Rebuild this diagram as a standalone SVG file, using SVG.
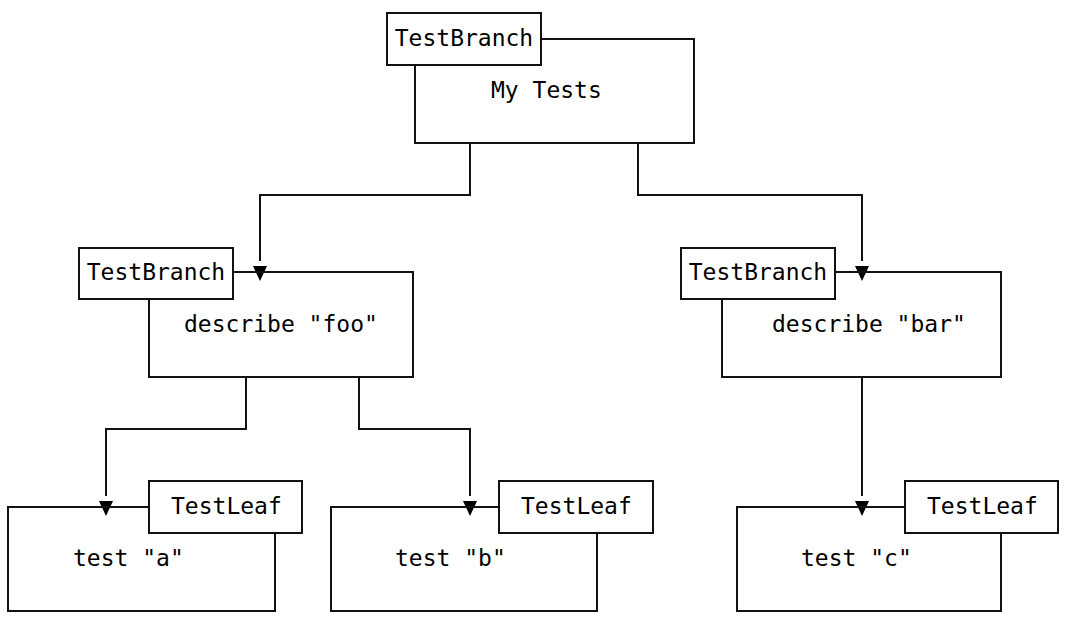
<svg xmlns="http://www.w3.org/2000/svg" width="1066" height="626" viewBox="0 0 1066 626">
<style>
.ln{fill:none;stroke:#111;stroke-width:2;stroke-linecap:square;stroke-linejoin:miter}
.t{font-family:"DejaVu Sans Mono","Liberation Mono",monospace;font-size:23px;fill:#000}
.ar{fill:#000}
</style>
<rect width="1066" height="626" fill="#fff"/>
<g id="connectors">
<path class="ln" d="M470,143 V195 H260 V260"/>
<path class="ln" d="M638,143 V195 H862 V260"/>
<path class="ln" d="M246,377 V429 H106 V495"/>
<path class="ln" d="M359,377 V429 H470 V495"/>
<path class="ln" d="M862,377 V495"/>
<polygon class="ar" points="253,266 267,266 260,281"/>
<polygon class="ar" points="855,266 869,266 862,281"/>
<polygon class="ar" points="99,501 113,501 106,516"/>
<polygon class="ar" points="463,501 477,501 470,516"/>
<polygon class="ar" points="855,501 869,501 862,516"/>
</g>
<g id="node-my-tests">
<path class="ln" d="M541,39 H694 V143 H415 V65"/>
<rect class="ln" x="387" y="13" width="154" height="52"/>
<text class="t" x="464" y="46" text-anchor="middle">TestBranch</text>
<text class="t" x="491" y="98">My Tests</text>
</g>
<g id="node-foo">
<path class="ln" d="M233,272 H413 V377 H149 V299"/>
<rect class="ln" x="79" y="248" width="154" height="51"/>
<text class="t" x="156" y="280" text-anchor="middle">TestBranch</text>
<text class="t" x="184" y="332">describe "foo"</text>
</g>
<g id="node-bar">
<path class="ln" d="M835,272 H1001 V377 H722 V299"/>
<rect class="ln" x="681" y="248" width="154" height="51"/>
<text class="t" x="758" y="280" text-anchor="middle">TestBranch</text>
<text class="t" x="772" y="332">describe "bar"</text>
</g>
<g id="node-a">
<path class="ln" d="M149,507 H8 V611 H275 V533"/>
<rect class="ln" x="149" y="481" width="153" height="52"/>
<text class="t" x="171" y="514">TestLeaf</text>
<text class="t" x="73" y="566">test "a"</text>
</g>
<g id="node-b">
<path class="ln" d="M499,507 H331 V611 H597 V533"/>
<rect class="ln" x="499" y="481" width="154" height="52"/>
<text class="t" x="521" y="514">TestLeaf</text>
<text class="t" x="395" y="566">test "b"</text>
</g>
<g id="node-c">
<path class="ln" d="M905,507 H737 V611 H1001 V533"/>
<rect class="ln" x="905" y="481" width="153" height="52"/>
<text class="t" x="927" y="514">TestLeaf</text>
<text class="t" x="801" y="566">test "c"</text>
</g>
</svg>
